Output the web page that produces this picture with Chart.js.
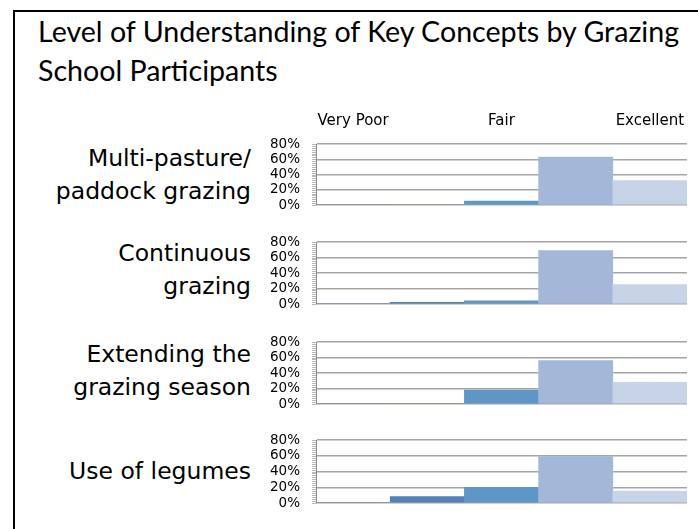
<!DOCTYPE html>
<html>
<head>
<meta charset="utf-8">
<script src="https://cdn.jsdelivr.net/npm/chart.js@4.4.1/dist/chart.umd.min.js"></script>
<style>
  html, body { margin: 0; padding: 0; background: #fff; }
  body { width: 698px; height: 529px; position: relative; overflow: hidden; }
  #frame { position: absolute; left: 13px; top: 10px; width: 800px; height: 600px;
           border-top: 2px solid #000; border-left: 2px solid #000; }
  #title { position: absolute; left: 38px; top: 12px; font-family: Lato, sans-serif;
           font-size: 28.6px; line-height: 39px; color: #000; white-space: nowrap; }
  .rowlabel { position: absolute; left: 0; width: 251px; text-align: right;
              font-family: "DejaVu Sans", sans-serif; font-size: 23.5px; line-height: 33px; color: #000; }
  canvas { position: absolute; left: 260px; }
</style>
</head>
<body>
<div id="frame"></div>
<div id="title">Level of Understanding of Key Concepts by Grazing<br>School Participants</div>

<div class="rowlabel" style="top:142px">Multi-pasture/<br>paddock grazing</div>
<div class="rowlabel" style="top:237px">Continuous<br>grazing</div>
<div class="rowlabel" style="top:338px">Extending the<br>grazing season</div>
<div class="rowlabel" style="top:455px">Use of legumes</div>

<canvas id="c0" width="438" height="114" style="top:100px"></canvas>
<canvas id="c1" width="438" height="82" style="top:231px"></canvas>
<canvas id="c2" width="438" height="82" style="top:331px"></canvas>
<canvas id="c3" width="438" height="83" style="top:429px"></canvas>

<script>
// rating scale, only three of the five get a label on the slide
const levels = ['Very Poor', '', 'Fair', '', 'Excellent'];
const yTicks = [0, 20, 40, 60, 80];

// percent of participants at each level
const multiPasture = [0, 0, 5, 63, 32];
const continuous = [0, 2, 4, 69, 25];
const extendingSeason = [0, 0, 18, 56, 28];
const legumes = [0, 8, 20, 59, 15];

const barColors = ['#4a76a8', '#5582b6', '#5e96c8', '#a3b7d9', '#c7d3e6'];

// excel style minor tick marks on the value axis
const minorTicks = {
  id: 'minorTicks',
  afterDraw(chart) {
    const y = chart.scales.y;
    const ctx = chart.ctx;
    ctx.save();
    ctx.strokeStyle = '#b8b8b8';
    ctx.lineWidth = 1;
    for (let v = 0; v <= 80; v += 2.5) {
      const py = Math.round(y.getPixelForValue(v)) + 0.5;
      ctx.beginPath();
      ctx.moveTo(y.right - 4, py);
      ctx.lineTo(y.right, py);
      ctx.stroke();
    }
    ctx.restore();
  }
};

function makeChart(id, values, showTop) {
  const ctx = document.getElementById(id).getContext('2d');
  return new Chart(ctx, {
    type: 'bar',
    data: {
      labels: levels,
      datasets: [{
        data: values,
        backgroundColor: barColors,
        borderWidth: 0,
        barPercentage: 1,
        categoryPercentage: 1
      }]
    },
    options: {
      responsive: false,
      devicePixelRatio: 1,
      animation: false,
      layout: { padding: { top: showTop ? 0 : 11, right: 11, bottom: 9, left: 0 } },
      plugins: { legend: { display: false }, tooltip: { enabled: false } },
      scales: {
        x: {
          display: showTop,
          position: 'top',
          grid: { display: false },
          border: { display: false },
          ticks: {
            color: '#000',
            font: { family: 'DejaVu Sans', size: 15 },
            padding: 6,
            maxRotation: 0,
            autoSkip: false
          },
          afterFit: (scale) => { if (showTop) scale.height = 44; }
        },
        y: {
          min: 0,
          max: 80,
          afterBuildTicks: (scale) => { scale.ticks = yTicks.map(v => ({ value: v })); },
          // invisible tick marks give the gap between labels and axis
          grid: { color: '#a5a5a5', lineWidth: 1.5, drawTicks: true, tickLength: 16, tickColor: 'rgba(0,0,0,0)' },
          border: { display: true, color: '#8c8c8c', width: 1 },
          ticks: {
            color: '#000',
            font: { family: 'DejaVu Sans', size: 13.5 },
            padding: 0,
            autoSkip: false,
            callback: (v) => v + '%'
          },
          afterFit: (scale) => { scale.width = 56; }
        }
      }
    },
    plugins: [minorTicks]
  });
}

makeChart('c0', multiPasture, true);
makeChart('c1', continuous, false);
makeChart('c2', extendingSeason, false);
makeChart('c3', legumes, false);
</script>
</body>
</html>
